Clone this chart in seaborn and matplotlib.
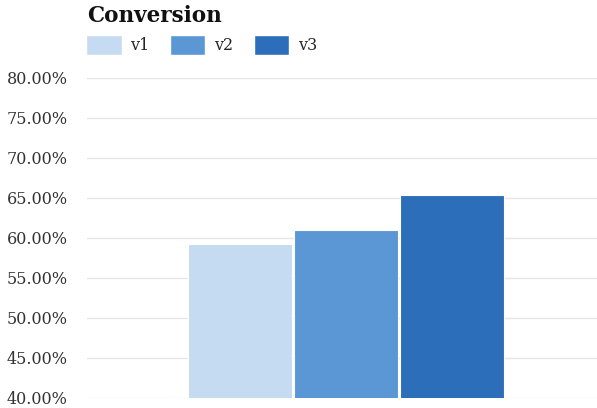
import matplotlib
matplotlib.use("Agg")
import matplotlib.pyplot as plt
import seaborn as sns
import pandas as pd
from matplotlib.patches import Patch
from matplotlib.ticker import FuncFormatter

versions = ["v1", "v2", "v3"]
conversion = [59.2, 61.0, 65.4]
colors = ["#C5DBF1", "#5B96D5", "#2D6EBB"]
yticks = [40, 45, 50, 55, 60, 65, 70, 75, 80]

sns.set_theme(style="white")
plt.rcParams["font.family"] = ["DejaVu Serif"]

df = pd.DataFrame({"version": versions, "conversion": conversion})

fig = plt.figure(figsize=(5.97, 4.08), dpi=100)
ax = fig.add_axes([87/597, 10/408, 510/597, 320/408])

sns.barplot(data=df, x="version", y="conversion", hue="version",
            palette=colors, width=0.98, ax=ax, legend=False,
            edgecolor="white", linewidth=0.8, saturation=1)

ax.set_xlim(-1.443, 3.368)
ax.set_ylim(40, 80)
ax.set_yticks(yticks)
ax.yaxis.set_major_formatter(FuncFormatter(lambda v, p: f"{v:.2f}%"))
ax.set_xticks([])
ax.set_xlabel("")
ax.set_ylabel("")
ax.grid(axis="y", color="#E6E6E6", linewidth=1)
ax.set_axisbelow(True)
for s in ax.spines.values():
    s.set_visible(False)
ax.tick_params(axis="y", length=0, labelsize=11.5, pad=14, labelcolor="#333333")

fig.text(87/597, 1 - 16/408, "Conversion", fontsize=15.5, fontweight="bold",
         va="center", ha="left", color="#111111")

handles = [Patch(facecolor=c, edgecolor="white", label=v) for c, v in zip(colors, versions)]
fig.legend(handles=handles, loc="center left", bbox_to_anchor=(80/597, 1 - 45/408),
           ncol=3, frameon=False, fontsize=11.5, handlelength=2.2, handleheight=1.5,
           columnspacing=1.3, handletextpad=0.55, borderaxespad=0)

fig.savefig("out.png", dpi=100)
